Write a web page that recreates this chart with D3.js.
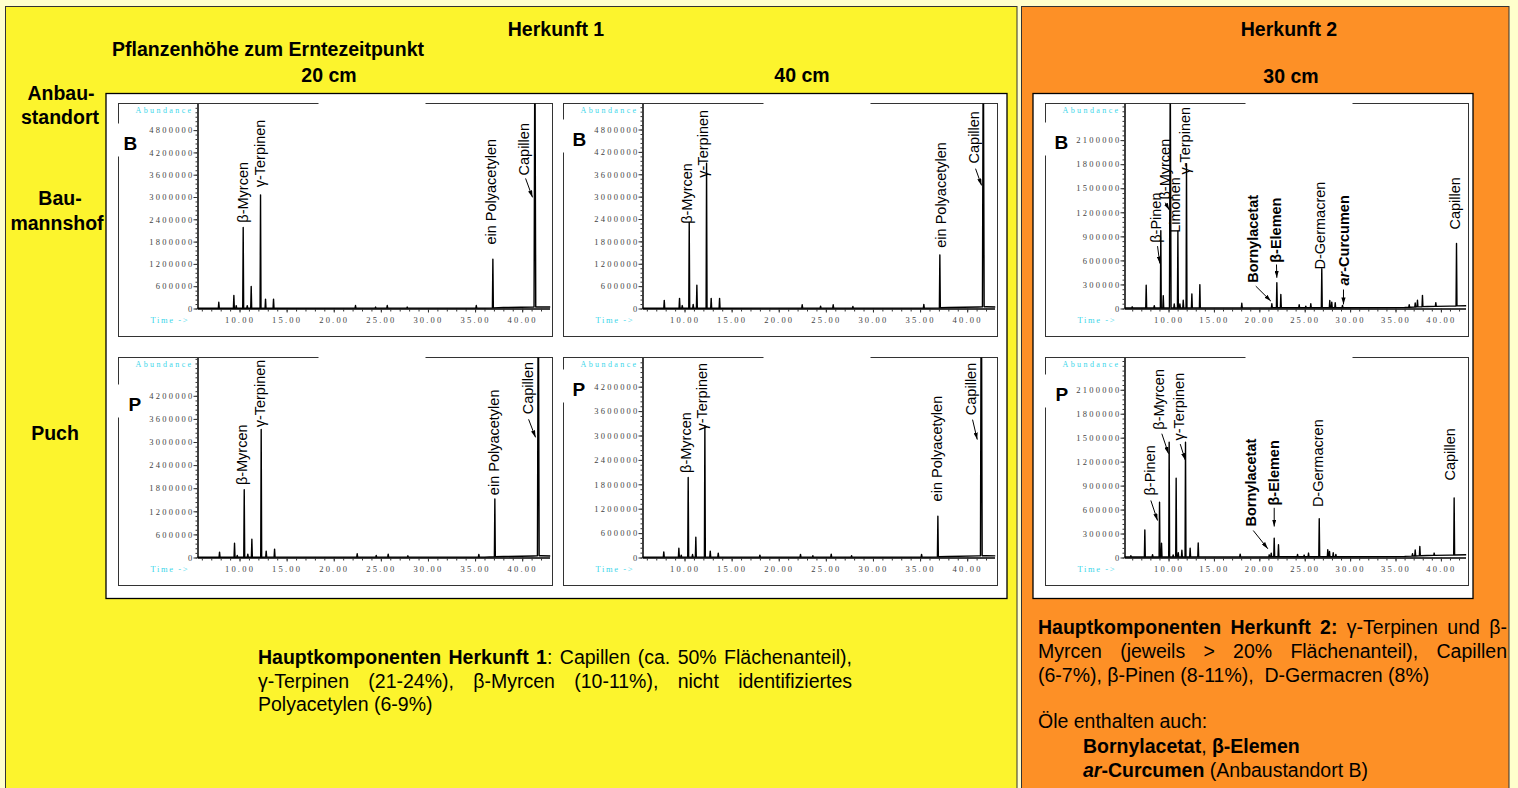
<!DOCTYPE html>
<html>
<head>
<meta charset="utf-8">
<script src="https://cdn.jsdelivr.net/npm/d3@7/dist/d3.min.js"></script>
<style>
  body { margin: 0; background: #ffffcc; }
  svg { display: block; font-family: "Liberation Sans", Arial, sans-serif; }
</style>
</head>
<body>
<svg width="1518" height="788"></svg>
<script>
// ---- axis ticks and extents ----
const xTicks = [10, 15, 20, 25, 30, 35, 40];
const yTicksB = [0, 600000, 1200000, 1800000, 2400000, 3000000, 3600000, 4200000, 4800000];
const yTicksP = [0, 600000, 1200000, 1800000, 2400000, 3000000, 3600000, 4200000];
const yTicksH2 = [0, 300000, 600000, 900000, 1200000, 1500000, 1800000, 2100000];
const xDomainH1 = [5.54, 42.9];
const xDomainH2 = [5.15, 42.71];

// ---- peaks: [retention time (min), abundance] ----
const peaksB20 = [[7.80,160000],[9.40,340000],[9.65,70000],[10.39,2170000],[10.82,70000],[11.24,584000],
  [12.23,3050000],[12.76,243000],[13.61,243000],[22.31,70000],[24.44,30000],[25.68,70000],[27.8,30000],
  [35.13,70000],[36.89,1310000],[41.35,7500000]];
const peaksB40 = [[7.85,209000],[9.47,264000],[9.76,70000],[10.5,2300000],[10.92,100000],[11.31,618000],
  [12.34,3890000],[12.83,264000],[13.72,264000],[22.49,90000],[24.44,55000],[25.78,90000],[27.87,45000],
  [35.4,100000],[37.1,1420000],[41.71,8000000]];
const peaksP20 = [[7.88,130000],[9.47,364000],[9.76,43000],[10.5,1750000],[10.88,78000],[11.31,468000],
  [12.3,3320000],[12.83,156000],[13.72,208000],[22.49,87000],[24.51,43000],[25.78,78000],[27.87,35000],
  [35.4,70000],[37.1,1500000],[41.71,8000000]];
const peaksP40 = [[7.8,130000],[9.4,221000],[9.65,50000],[10.39,1960000],[10.85,65000],[11.2,492000],
  [12.16,3230000],[12.73,148000],[13.58,98000],[18.0,50000],[22.31,65000],[23.62,33000],[25.57,74000],
  [27.73,33000],[35.16,65000],[36.89,1000000],[41.5,8000000]];
const peaksB30 = [[6.0,15000],[7.54,283000],[8.43,29000],[9.15,965000],[9.42,154000],[10.19,3000000],
  [10.63,50000],[11.03,956000],[11.25,50000],[11.62,96000],[11.98,1800000],[12.57,175000],[13.45,291000],
  [18.07,58000],[21.38,50000],[21.93,312000],[22.37,166000],[24.39,37000],[25.12,20000],[25.67,50000],
  [26.88,486000],[27.76,91000],[27.98,70000],[28.36,62000],[29.16,29000],[36.51,30000],[37.17,50000],
  [37.42,83000],[37.97,141000],[39.44,46000],[41.72,778000]];
const peaksP30 = [[5.85,17000],[7.39,338000],[8.24,29000],[9.01,685000],[9.23,171000],[10.07,1436000],
  [10.51,25000],[10.84,985000],[11.07,54000],[11.47,83000],[11.87,1436000],[12.38,108000],[13.27,175000],
  [17.89,33000],[21.09,25000],[21.31,46000],[21.64,234000],[22.11,150000],[24.21,29000],[24.94,21000],
  [25.42,46000],[26.6,476000],[27.54,88000],[27.73,67000],[28.14,50000],[28.43,29000],[36.87,29000],
  [37.17,75000],[37.68,117000],[39.26,29000],[41.46,714000]];

// ---- baseline drift: [time, abundance] ----
const baseH1 = [[5.5,8000],[36,10000],[38,25000],[41.2,40000],[42,45000],[43,40000]];
const baseH2 = [[5.15,6000],[29,10000],[36,14000],[38.5,25000],[41,30000],[42.8,35000]];

// ---- peak labels: [name, time, abundance where text starts] ----
const labelsB20 = [['β-Myrcen',10.32,2310000],['γ-Terpinen',12.12,3260000],['ein Polyacetylen',36.65,1720000],['Capillen',40.15,3580000]];
const labelsB40 = [['β-Myrcen',10.21,2270000],['γ-Terpinen',11.91,3510000],['ein Polyacetylen',37.18,1630000],['Capillen',40.68,3890000]];
const labelsP20 = [['β-Myrcen',10.21,1880000],['γ-Terpinen',12.12,3380000],['ein Polyacetylen',36.96,1620000],['Capillen',40.57,3720000]];
const labelsP40 = [['β-Myrcen',10.18,2080000],['γ-Terpinen',11.88,3120000],['ein Polyacetylen',36.75,1380000],['Capillen',40.36,3500000]];
const labelsB30 = [['β-Pinen',8.6,820000],['β-Myrcen',9.64,1360000],['Limonen',10.69,944000],['γ-Terpinen',11.84,1670000],
  ['Bornylacetat',19.33,321000],['β-Elemen',21.82,570000],['D-Germacren',26.66,487000],['ar-Curcumen',29.35,287000],['Capillen',41.57,985000]];
const labelsP30 = [['β-Pinen',7.98,776000],['β-Myrcen',8.98,1600000],['γ-Terpinen',11.18,1465000],
  ['Bornylacetat',19.06,388000],['β-Elemen',21.56,651000],['D-Germacren',26.49,631000],['Capillen',40.98,964000]];

// ---- arrows: [t1, a1, t2, a2] ----
const arrowsB20 = [[40.36,3500000,41.1,2990000]];
const arrowsB40 = [[40.89,3750000,41.53,3300000]];
const arrowsP20 = [[40.68,3590000,41.42,3120000]];
const arrowsP40 = [[40.57,3390000,41.07,2900000]];
const arrowsB30 = [[8.79,778000,9.04,561000],[9.64,1320000,10.08,1230000],[19.61,279000,21.27,92000],
  [21.89,549000,21.93,383000],[29.27,237000,29.27,50000]];
const arrowsP30 = [[8.05,714000,8.79,463000],[9.26,1550000,10.0,1300000],[11.29,1420000,11.84,1220000],
  [19.33,338000,20.94,109000],[21.64,622000,21.64,388000]];

const boldNames = ['Bornylacetat', 'β-Elemen', 'ar-Curcumen'];

const panels = [
  { x: 118, y: 103, w: 434, h: 233, letter: 'B', lx: 5, ly: 46, xDom: xDomainH1, yMax: 5516000, yTicks: yTicksB, yMinor: 120000,
    peaks: peaksB20, base: baseH1, labels: labelsB20, arrows: arrowsB20 },
  { x: 563, y: 103, w: 434, h: 233, letter: 'B', lx: 9, ly: 42, xDom: xDomainH1, yMax: 5498000, yTicks: yTicksB, yMinor: 120000,
    peaks: peaksB40, base: baseH1, labels: labelsB40, arrows: arrowsB40 },
  { x: 118, y: 357, w: 434, h: 228, letter: 'P', lx: 10, ly: 53, xDom: xDomainH1, yMax: 5195000, yTicks: yTicksP, yMinor: 120000,
    peaks: peaksP20, base: baseH1, labels: labelsP20, arrows: arrowsP20 },
  { x: 563, y: 357, w: 434, h: 228, letter: 'P', lx: 9, ly: 38, xDom: xDomainH1, yMax: 4918000, yTicks: yTicksP, yMinor: 120000,
    peaks: peaksP40, base: baseH1, labels: labelsP40, arrows: arrowsP40 },
  { x: 1045, y: 103, w: 423, h: 233, letter: 'B', lx: 9, ly: 45, xDom: xDomainH2, yMax: 2557000, yTicks: yTicksH2, yMinor: 60000,
    peaks: peaksB30, base: baseH2, labels: labelsB30, arrows: arrowsB30 },
  { x: 1045, y: 357, w: 423, h: 228, letter: 'P', lx: 10, ly: 43, xDom: xDomainH2, yMax: 2504000, yTicks: yTicksH2, yMinor: 60000,
    peaks: peaksP30, base: baseH2, labels: labelsP30, arrows: arrowsP30 }
];

const headings = [
  ['Herkunft 1', 556, 36, 'middle'],
  ['Pflanzenhöhe zum Erntezeitpunkt', 112, 56, 'start'],
  ['20 cm', 329, 82, 'middle'],
  ['40 cm', 802, 82, 'middle'],
  ['Herkunft 2', 1289, 36, 'middle'],
  ['30 cm', 1291, 82.5, 'middle'],
  ['Anbau-', 61, 99.5, 'middle'],
  ['standort', 60, 124, 'middle'],
  ['Bau-', 60, 204.5, 'middle'],
  ['mannshof', 57, 229.5, 'middle'],
  ['Puch', 55, 440, 'middle']
];

const svg = d3.select('svg');
const serif = '"Liberation Serif", "Times New Roman", serif';

svg.append('rect').attr('width', 1518).attr('height', 788).attr('fill', '#ffffcc');
svg.append('rect').attr('x', 5.5).attr('y', 6.5).attr('width', 1011.5).attr('height', 800)
  .attr('fill', '#fcf42d').attr('stroke', '#333');
svg.append('rect').attr('x', 1021.5).attr('y', 6.5).attr('width', 487.5).attr('height', 800)
  .attr('fill', '#fd9026').attr('stroke', '#333');

svg.selectAll('text.head').data(headings).join('text').attr('class', 'head')
  .attr('x', d => d[1]).attr('y', d => d[2]).attr('text-anchor', d => d[3])
  .attr('font-size', 19.5).attr('font-weight', 'bold').text(d => d[0]);

svg.append('rect').attr('x', 106).attr('y', 93.5).attr('width', 901).attr('height', 505)
  .attr('fill', '#fff').attr('stroke', '#000').attr('stroke-width', 1.3);
svg.append('rect').attr('x', 1033).attr('y', 93.5).attr('width', 440).attr('height', 505)
  .attr('fill', '#fff').attr('stroke', '#000').attr('stroke-width', 1.3);

svg.append('defs').append('marker').attr('id', 'arr')
  .attr('viewBox', '0 0 10 6').attr('refX', 10).attr('refY', 3)
  .attr('markerWidth', 7).attr('markerHeight', 4.2).attr('markerUnits', 'userSpaceOnUse')
  .attr('orient', 'auto')
  .append('path').attr('d', 'M0,0L10,3L0,6z').attr('fill', '#000');

panels.forEach((p, i) => {
  const g = svg.append('g').attr('transform', `translate(${p.x + 0.5},${p.y + 0.5})`);
  const base = p.h - 28;
  const x = d3.scaleLinear().domain(p.xDom).range([79, p.w - 3]);
  const y = d3.scaleLinear().domain([0, p.yMax]).range([base, 0]);

  g.append('rect').attr('width', p.w).attr('height', p.h)
    .attr('fill', '#fff').attr('stroke', '#333').attr('stroke-width', 1);
  g.append('rect').attr('x', 200).attr('y', -1.5).attr('width', 107).attr('height', 3).attr('fill', '#fff');

  // sample letter
  g.append('rect').attr('x', -1.5).attr('y', p.ly - 26).attr('width', p.lx + 18).attr('height', 33).attr('fill', '#fff');
  g.append('text').attr('x', p.lx).attr('y', p.ly).attr('font-size', 19).attr('font-weight', 'bold').text(p.letter);

  // axes
  const yAxis = g.append('g').attr('transform', 'translate(79,0)')
    .call(d3.axisLeft(y).tickValues(p.yTicks).tickSize(4).tickSizeOuter(0).tickPadding(0).tickFormat(d3.format('d')));
  g.append('g').attr('transform', 'translate(79,0)')
    .call(d3.axisLeft(y).tickValues(d3.range(0, p.yMax, p.yMinor)).tickSize(2).tickSizeOuter(0).tickFormat(''))
    .call(a => a.select('.domain').remove());
  const xAxis = g.append('g').attr('transform', `translate(0,${base})`)
    .call(d3.axisBottom(x).tickValues(xTicks).tickSize(4).tickSizeOuter(0).tickPadding(4.5).tickFormat(d3.format('.2f')));
  g.append('g').attr('transform', `translate(0,${base})`)
    .call(d3.axisBottom(x).tickValues(d3.range(6, p.xDom[1], 1)).tickSize(3).tickSizeOuter(0).tickFormat(''))
    .call(a => a.select('.domain').remove());

  [yAxis, xAxis].forEach(a => {
    a.select('.domain').attr('stroke', '#000').attr('stroke-width', 1.5);
    a.selectAll('text').attr('font-family', serif).attr('font-size', 8.5)
      .attr('fill', '#444').attr('letter-spacing', 2.2);
  });
  yAxis.selectAll('text').attr('x', -3);
  g.selectAll('.tick line').attr('stroke', '#333');

  g.append('text').attr('x', 17).attr('y', 9.5).attr('font-family', serif).attr('font-size', 8)
    .attr('letter-spacing', 2.4).attr('fill', '#3dd6ea').text('Abundance');
  g.append('text').attr('x', 32).attr('y', base + 14.5).attr('font-family', serif).attr('font-size', 8.5)
    .attr('letter-spacing', 1.6).attr('fill', '#3dd6ea').text('Time ->');

  // chromatogram trace
  g.append('clipPath').attr('id', 'c' + i).append('rect')
    .attr('x', 79).attr('y', 0).attr('width', p.w - 81).attr('height', base + 2);
  const baseAt = d3.scaleLinear().domain(p.base.map(d => d[0])).range(p.base.map(d => d[1])).clamp(true);
  const pts = p.base.map(d => [d[0], d[1]]);
  p.peaks.forEach(([t, h]) => {
    const hw = h > p.yMax ? 0.09 : 0.05;
    pts.push([t - hw, baseAt(t - hw)], [t, baseAt(t) + h], [t + hw, baseAt(t + hw)]);
  });
  pts.sort((a, b) => a[0] - b[0]);
  g.append('path').attr('clip-path', `url(#c${i})`)
    .attr('d', d3.line().x(d => x(d[0])).y(d => y(d[1]))(pts))
    .attr('fill', 'none').attr('stroke', '#000').attr('stroke-width', 1.4).attr('stroke-linejoin', 'round');

  // labels and arrows
  g.selectAll('text.lbl').data(p.labels).join('text').attr('class', 'lbl')
    .attr('transform', d => `translate(${x(d[1])},${y(d[2])}) rotate(-90)`)
    .attr('dy', '0.35em').attr('font-size', 14.5)
    .attr('font-weight', d => boldNames.includes(d[0]) ? 'bold' : 'normal')
    .each(function (d) {
      const t = d3.select(this);
      if (d[0].startsWith('ar-')) {
        t.append('tspan').attr('font-style', 'italic').text('ar');
        t.append('tspan').text(d[0].slice(2));
      } else t.text(d[0]);
    });
  g.selectAll('line.arr').data(p.arrows).join('line').attr('class', 'arr')
    .attr('x1', d => x(d[0])).attr('y1', d => y(d[1]))
    .attr('x2', d => x(d[2])).attr('y2', d => y(d[3]))
    .attr('stroke', '#000').attr('stroke-width', 1).attr('marker-end', 'url(#arr)');
});

// ---- paragraphs (justified like the original) ----
function parseLine(str) {
  const words = []; let cur = [], buf = '', bold = false, ital = false;
  const flush = () => { if (buf) { cur.push([buf, (bold ? 'b' : '') + (ital ? 'i' : '')]); buf = ''; } };
  for (let i = 0; i < str.length; i++) {
    if (str.startsWith('**', i)) { flush(); bold = !bold; i++; continue; }
    if (str[i] === '_') { flush(); ital = !ital; continue; }
    if (str[i] === ' ') { flush(); words.push(cur); cur = []; continue; }
    buf += str[i];
  }
  flush(); words.push(cur);
  return words;
}

function writeLine(str, x0, y, width, justify) {
  const words = parseLine(str);
  const nodes = words.map(runs => {
    const t = svg.append('text').attr('y', y).attr('font-size', 19.5).attr('fill', '#000');
    runs.forEach(([s, st]) => t.append('tspan').text(s)
      .attr('font-weight', st.includes('b') ? 'bold' : 'normal')
      .attr('font-style', st.includes('i') ? 'italic' : 'normal'));
    return t;
  });
  const widths = nodes.map(n => n.node().getComputedTextLength());
  const space = justify ? (width - d3.sum(widths)) / (words.length - 1) : 5.42;
  let x = x0;
  nodes.forEach((n, i) => { n.attr('x', x); x += widths[i] + space; });
}

const textH1 = [
  '**Hauptkomponenten Herkunft 1**: Capillen (ca. 50% Flächenanteil),',
  'γ-Terpinen (21-24%), β-Myrcen (10-11%), nicht identifiziertes',
  'Polyacetylen (6-9%)'
];
const textH2 = [
  '**Hauptkomponenten Herkunft 2:** γ-Terpinen und β-',
  'Myrcen (jeweils > 20% Flächenanteil), Capillen',
  '(6-7%), β-Pinen (8-11%),  D-Germacren (8%)'
];
const textH2b = [
  'Öle enthalten auch:',
  '**Bornylacetat**, **β-Elemen**',
  '**_ar_-Curcumen** (Anbaustandort B)'
];

textH1.forEach((s, i) => writeLine(s, 258, 664 + i * 23.5, 594, i < 2));
textH2.forEach((s, i) => writeLine(s, 1038, 634 + i * 24, 469, i < 2));
writeLine(textH2b[0], 1038, 728, 0, false);
writeLine(textH2b[1], 1083, 752.5, 0, false);
writeLine(textH2b[2], 1083, 776.5, 0, false);
</script>
</body>
</html>
